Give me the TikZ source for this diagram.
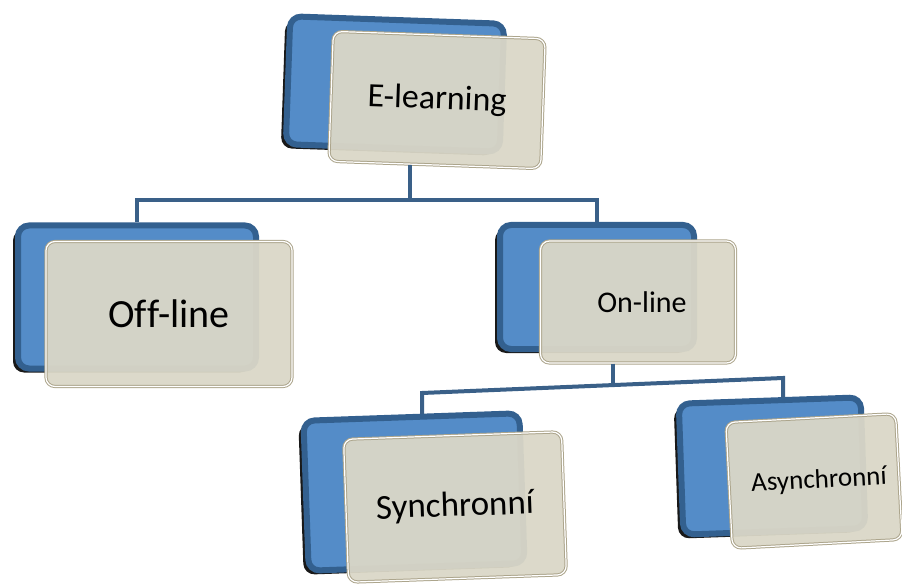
\documentclass[tikz,border=0pt]{standalone}
\usepackage{fontspec}
\setmainfont[Ligatures=NoCommon]{Carlito}
\usepackage{tikz}
\usetikzlibrary{positioning}
\usetikzlibrary{shadows}
\definecolor{blueface}{HTML}{548CC8}
\definecolor{blueedge}{HTML}{33608F}
\definecolor{beigeface}{HTML}{DAD7C7}
\definecolor{beigeedge}{HTML}{ACA58C}
\definecolor{connblue}{HTML}{3A6088}
\newcommand{\fs}[1]{\fontsize{#1}{#1}\selectfont}

\begin{document}
\begin{tikzpicture}[x=1pt, y=-1pt,
	back/.style={rectangle, rounded corners=11pt, fill=blueface, draw=blueedge, line width=6pt, inner sep=0pt,
		drop shadow={shadow xshift=-5pt, shadow yshift=-4pt, fill=black, opacity=0.9}},
	front/.style={rectangle, rounded corners=9pt, fill=beigeface, fill opacity=0.95, text opacity=1,
		draw=beigeedge, double=white, double distance=1.2pt, line width=1pt, inner sep=0pt},
	conn/.style={draw=connblue, line width=4pt}]
	\useasboundingbox (0,0) rectangle (902,585);

	\node[back, minimum width=214pt, minimum height=128pt, rotate=-2] (elearningback) at (395,84) {};
	\node[back, minimum width=238pt, minimum height=143pt] (offlineback) at (137,297) {};
	\node[back, minimum width=194pt, minimum height=124pt] (onlineback) at (597,287) {};
	\node[back, minimum width=216pt, minimum height=150pt, rotate=2] (synchback) at (414,492) {};
	\node[back, minimum width=182pt, minimum height=131pt, rotate=2] (asynchback) at (772,466) {};

	\node[front, minimum width=212pt, minimum height=130pt, rotate=-2] (elearning) at (437,100) {\fs{34}E-learning};
	\node[front, minimum width=246pt, minimum height=145pt] (offline) at (169,314) {\fs{40}Of\kern0pt f-line};
	\node[front, minimum width=195pt, minimum height=122pt] (online) at (638,302) {\fs{30}\hspace{8pt}On-line};
	\node[front, minimum width=218pt, minimum height=143pt, rotate=2] (synch) at (455,507) {\fs{35}Synchronní};
	\node[front, minimum width=170pt, minimum height=126pt, rotate=3] (asynch) at (814,481) {\fs{27}\hspace{10pt}Asynchronní};

	\coordinate (j1) at (410,200);
	\coordinate (j2) at (613,386);
	\coordinate (b1) at (422,393);
	\coordinate (b2) at (783,378);

	\draw[conn] (j1 |- elearning.south) -- (j1);
	\draw[conn] (j1) -| (offlineback.north);
	\draw[conn] (j1) -| (onlineback.north);
	\draw[conn] (j2 |- online.south) -- (j2);
	\draw[conn] (b1 |- synchback.north) -- (b1) -- (b2) -- (b2 |- asynchback.north);
\end{tikzpicture}
\end{document}
